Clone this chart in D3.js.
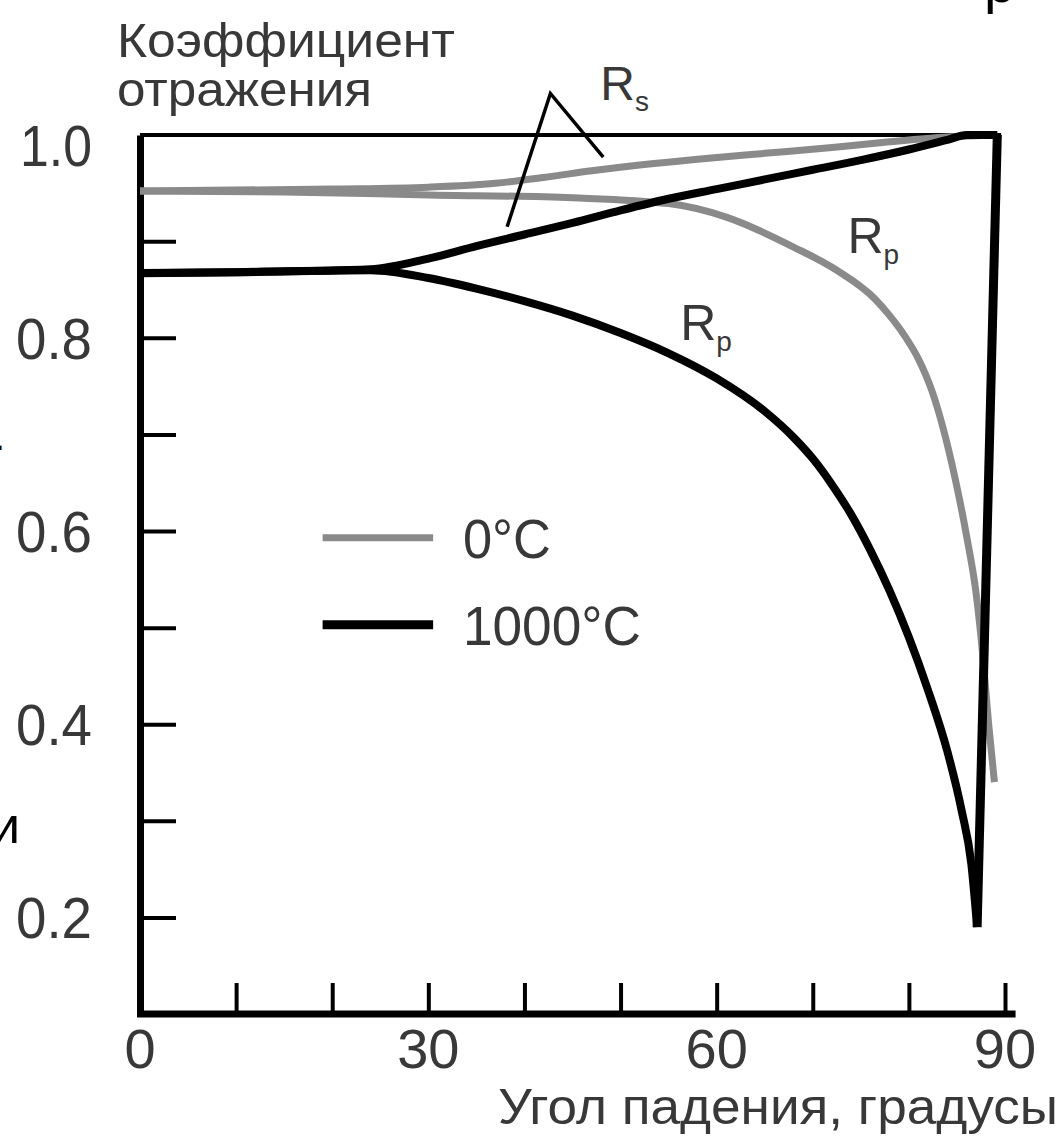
<!DOCTYPE html>
<meta charset="UTF-8">
<style>
body { margin: 0; background: #fff; }
svg { display: block; }
.lbl { font-family: "Liberation Sans", Arial, sans-serif; fill: #383838; }
.axis path, .axis line { stroke: #000; }
</style>
<body>
<div class="chart"></div>
<script src="https://d3js.org/d3.v7.min.js"></script>
<script>
// curves: angle in degrees, reflectance
var rs0Angle  = [0, 20, 30, 37, 42, 47, 52, 58, 65, 72, 78, 84, 89.2];
var rs0Value  = [0.952, 0.954, 0.956, 0.960, 0.966, 0.973, 0.979, 0.985, 0.991, 0.997, 1.003, 1.008, 1.01];

var rp0Angle  = [0, 15, 30, 45, 55, 61, 68, 72.5, 76.5, 78, 79.5, 81, 82.4, 83.6, 84.8, 86, 87, 87.7, 88.3, 88.9];
var rp0Value  = [0.952, 0.951, 0.948, 0.945, 0.939, 0.925, 0.894, 0.870, 0.840, 0.823, 0.803, 0.778, 0.745, 0.705, 0.655, 0.595, 0.535, 0.47, 0.40, 0.34];

var rs1Angle  = [0, 10, 24, 30, 35, 40, 45, 50, 55, 60, 65, 70, 75, 80, 84, 86, 89.2];
var rs1Value  = [0.867, 0.868, 0.871, 0.882, 0.895, 0.907, 0.919, 0.932, 0.944, 0.954, 0.964, 0.974, 0.984, 0.995, 1.005, 1.01, 1.01];

var rp1Angle  = [0, 10, 24, 30, 35, 40, 45, 50, 55, 60, 65, 68, 70, 72, 74, 76, 78, 80, 82, 84, 85.5, 86.5, 87.1];
var rp1Value  = [0.867, 0.868, 0.870, 0.862, 0.851, 0.838, 0.823, 0.805, 0.784, 0.758, 0.724, 0.697, 0.675, 0.648, 0.617, 0.580, 0.538, 0.49, 0.435, 0.372, 0.31, 0.255, 0.19];
// steep climb of the 1000°C Rp back to the top
var rp1RiseAngle = [87.1, 89.2];
var rp1RiseValue = [0.19, 1.01];

var xTicks  = [10, 20, 30, 40, 50, 60, 70, 80, 90];
var xLabels = [0, 30, 60, 90];
var yTicks  = [0.2, 0.3, 0.4, 0.5, 0.6, 0.7, 0.8, 0.9];
var yLabels = [0.2, 0.4, 0.6, 0.8, 1.0];

var legendNames = ["0°C", "1000°C"];

var width = 1062, height = 1141;
var grey = "#8a8a8a";

var x = d3.scaleLinear().domain([0, 90]).range([140, 1005]);
var y = d3.scaleLinear().domain([0.1, 1.01]).range([1014, 135]);

var svg = d3.select(".chart").append("svg")
  .attr("width", width)
  .attr("height", height);

function zip(a, v) { return a.map(function (d, i) { return [d, v[i]]; }); }

function lineOf(curve) {
  return d3.line()
    .x(function (d) { return x(d[0]); })
    .y(function (d) { return y(d[1]); })
    .curve(curve);
}

// top frame
svg.append("line")
  .attr("x1", x(0)).attr("x2", x(89.6))
  .attr("y1", y(1.01)).attr("y2", y(1.01))
  .attr("stroke", "#000").attr("stroke-width", 4);

// y axis: ticks inside, labels every 0.2
svg.append("g").attr("class", "axis")
  .attr("transform", "translate(" + x(0) + ",0)")
  .call(d3.axisLeft(y).tickValues(yTicks).tickSizeInner(-36).tickSizeOuter(0).tickFormat(""))
  .call(function (g) {
    g.select(".domain").attr("stroke-width", 7);
    g.selectAll(".tick line").attr("stroke-width", 4);
  });

svg.append("g").selectAll("text").data(yLabels).enter().append("text")
  .attr("class", "lbl")
  .attr("x", 92)
  .attr("y", function (d) { return y(d); })
  .attr("dy", "0.36em")
  .attr("text-anchor", "end")
  .style("font-size", "58px")
  .attr("textLength", function (d) { return d === 1 ? 72 : 76; })
  .attr("lengthAdjust", "spacingAndGlyphs")
  .text(function (d) { return d3.format(".1f")(d); });

// x axis: ticks up, labels every 30
svg.append("g").attr("class", "axis")
  .attr("transform", "translate(0," + y(0.1) + ")")
  .call(d3.axisBottom(x).tickValues(xTicks).tickSizeInner(-31).tickSizeOuter(0).tickFormat(""))
  .call(function (g) {
    g.select(".domain").remove();
    g.selectAll(".tick line").attr("stroke-width", 4);
  });
svg.append("line")
  .attr("x1", x(0) - 3).attr("x2", x(91.1))
  .attr("y1", y(0.1)).attr("y2", y(0.1))
  .attr("stroke", "#000").attr("stroke-width", 7);

svg.append("g").selectAll("text").data(xLabels).enter().append("text")
  .attr("class", "lbl")
  .attr("x", function (d) { return x(d); })
  .attr("y", 1068)
  .attr("text-anchor", "middle")
  .style("font-size", "56px")
  .text(function (d) { return d; });

// titles
svg.append("text").attr("class", "lbl")
  .attr("x", 117).attr("y", 57)
  .style("font-size", "48px")
  .attr("textLength", 338).attr("lengthAdjust", "spacingAndGlyphs")
  .text("Коэффициент");
svg.append("text").attr("class", "lbl")
  .attr("x", 117).attr("y", 106)
  .style("font-size", "48px")
  .attr("textLength", 255).attr("lengthAdjust", "spacingAndGlyphs")
  .text("отражения");
svg.append("text").attr("class", "lbl")
  .attr("x", 1058).attr("y", 1124)
  .attr("text-anchor", "end")
  .style("font-size", "50px")
  .attr("textLength", 560).attr("lengthAdjust", "spacingAndGlyphs")
  .text("Угол падения, градусы");

// curves: 0°C grey, 1000°C black
var series = [
  { pts: zip(rs0Angle, rs0Value), col: grey, w: 7, curve: d3.curveMonotoneX },
  { pts: zip(rp0Angle, rp0Value), col: grey, w: 7, curve: d3.curveMonotoneX },
  { pts: zip(rs1Angle, rs1Value), col: "#000", w: 8, curve: d3.curveMonotoneX },
  { pts: zip(rp1Angle, rp1Value), col: "#000", w: 8, curve: d3.curveMonotoneX },
  { pts: zip(rp1RiseAngle, rp1RiseValue), col: "#000", w: 9, curve: d3.curveLinear }
];
svg.append("g").selectAll("path").data(series).enter().append("path")
  .attr("d", function (d) { return lineOf(d.curve)(d.pts); })
  .attr("fill", "none")
  .attr("stroke", function (d) { return d.col; })
  .attr("stroke-width", function (d) { return d.w; })
  .attr("stroke-linejoin", "round");

// legend
var leg = svg.append("g").selectAll("g").data(legendNames).enter().append("g");
leg.append("line")
  .attr("x1", x(19)).attr("x2", x(30.5))
  .attr("y1", function (d, i) { return y(i ? 0.503 : 0.593); })
  .attr("y2", function (d, i) { return y(i ? 0.503 : 0.593); })
  .attr("stroke", function (d, i) { return i ? "#000" : grey; })
  .attr("stroke-width", function (d, i) { return i ? 9 : 7; });
leg.append("text").attr("class", "lbl")
  .attr("x", x(33.6))
  .attr("y", function (d, i) { return y(i ? 0.503 : 0.593); })
  .attr("dy", "0.36em")
  .style("font-size", "55px")
  .attr("textLength", function (d, i) { return i ? 178 : 88; })
  .attr("lengthAdjust", "spacingAndGlyphs")
  .text(function (d) { return d; });

// curve labels
function rlabel(ang, val, sub, big, small) {
  var t = svg.append("text").attr("class", "lbl")
    .attr("x", x(ang)).attr("y", y(val))
    .style("font-size", big + "px");
  t.append("tspan").text("R");
  t.append("tspan").attr("dy", big * 0.22).style("font-size", small + "px").text(sub);
}
rlabel(47.9, 1.046, "s", 48, 28);
rlabel(73.6, 0.888, "p", 50, 28);
rlabel(56.2, 0.798, "p", 50, 28);

// pointer lines to the Rs pair
svg.append("path")
  .attr("d", d3.line()([[x(38.2), y(0.915)], [x(42.7), y(1.053)], [x(48.2), y(0.987)]]))
  .attr("fill", "none")
  .attr("stroke", "#000")
  .attr("stroke-width", 3.5);

// fragments of the surrounding page text
svg.append("text").attr("x", -9).attr("y", 843)
  .style("font-family", "Liberation Sans, Arial, sans-serif").style("font-size", "52px").text("и");
svg.append("text").attr("x", -6).attr("y", 450)
  .style("font-family", "Liberation Sans, Arial, sans-serif").style("font-size", "40px").text(".");
svg.append("text").attr("x", 984).attr("y", 2)
  .style("font-family", "Liberation Sans, Arial, sans-serif").style("font-size", "56px").text("р");
</script>
</body>
